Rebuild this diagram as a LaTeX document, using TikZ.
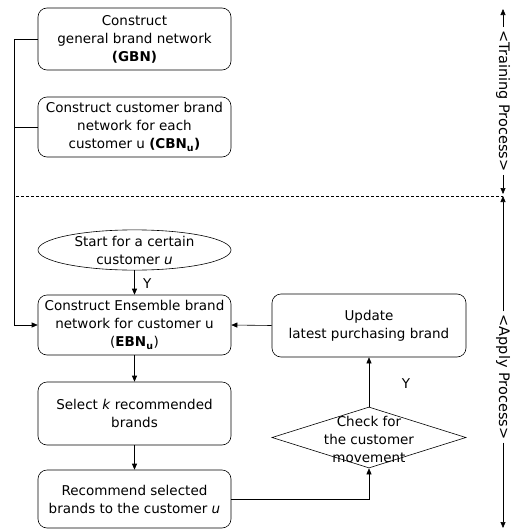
\documentclass[tikz,border=0pt]{standalone}
\usepackage{fontspec}
\setmainfont{DejaVu Sans}
\usetikzlibrary{shapes.geometric,arrows.meta}
\begin{document}
\begin{tikzpicture}[x=1pt,y=-1pt,
  every node/.style={font=\fontsize{13.5}{18}\selectfont},
  box/.style={draw, rounded corners=9pt, minimum width=193pt, align=center, inner sep=0pt, line width=0.6pt},
  arr/.style={-{Triangle[width=5pt,length=6pt]}, line width=0.6pt},
  ln/.style={line width=0.6pt},
  side/.style={rotate=-90, inner sep=3pt, font=\fontsize{14.5}{18}\selectfont}]
\useasboundingbox (0,0) rectangle (511,530);
% training boxes
\node[box, minimum height=62pt] (gbn) at (134.5,39) {Construct\\general brand network\\\textbf{(GBN)}};
\node[box, minimum height=60pt] (cbn) at (134.5,127) {Construct customer brand\\network for each\\customer u \textbf{(CBN\textsubscript{u})}};
% apply
\node[draw, ellipse, minimum width=193pt, minimum height=34pt, inner sep=0pt, align=center, line width=0.6pt] (start) at (134.5,250) {Start for a certain\\customer \textit{u}};
\node[box, minimum height=60pt] (ebn) at (134.5,325) {Construct Ensemble brand\\network for customer u\\(\textbf{EBN\textsubscript{u}})};
\node[box, minimum height=63pt] (sel) at (134.5,413.5) {Select \textit{k} recommended\\brands};
\node[box, minimum height=58pt] (rec) at (134.5,499) {Recommend selected\\brands to the customer \textit{u}};
\node[box, minimum height=63pt, minimum width=194pt] (upd) at (369,325.5) {Update\\latest purchasing brand};
\node[draw, diamond, minimum width=194pt, minimum height=61pt, shape aspect=3.18, inner sep=0pt, line width=0.6pt] (chk) at (369,437.5) {};
\node[align=center, inner sep=0pt] (chkt) at (369,439) {Check for\\the customer\\movement};
% connectors
\coordinate (lx) at (14,39);
\draw[ln] (gbn.west) -- (lx);
\draw[arr] (lx) |- (ebn.west);
\draw[ln] (cbn.west) -- (lx |- cbn.west);
\draw[arr] (start.south) -- node[right, xshift=5pt, yshift=-1pt] (y1) {Y} (ebn.north);
\draw[arr] (ebn.south) -- (sel.north);
\draw[arr] (sel.south) -- (rec.north);
\draw[arr] (rec.east) -| (chk.south);
\draw[arr] (chk.north) -- (upd.south);
\node (y2) at (406,384) {Y};
\draw[arr] (upd.west) -- (ebn.east);
% dashed separator
\coordinate (dl) at (16,196);
\coordinate (dr) at (503,196);
\draw[ln, dashed, dash pattern=on 3pt off 2pt] (dl) -- (dr);
% side labels
\node[side] (tr) at (503,101) {<Training Process>};
\coordinate (ttop) at (503,9);
\coordinate (tbot) at (503,194);
\draw[arr] (tr.west) -- (ttop);
\draw[arr] (tr.east) -- (tbot);
\node[side] (ap) at (503,377) {<Apply Process>};
\coordinate (atop) at (503,196);
\coordinate (abot) at (503,528);
\draw[arr] (ap.west) -- (atop);
\draw[arr] (ap.east) -- (abot);
\end{tikzpicture}
\end{document}
